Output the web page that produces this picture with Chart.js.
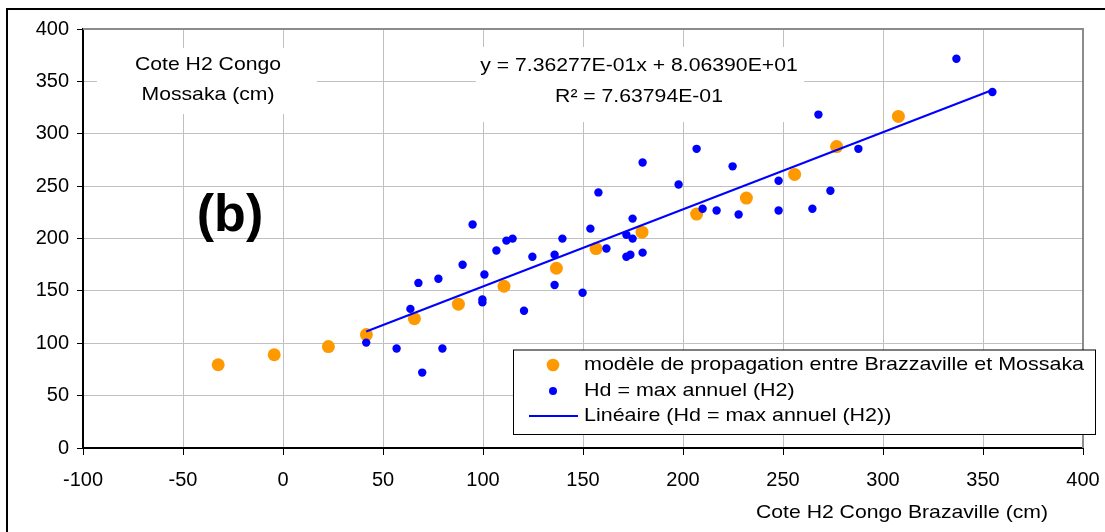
<!DOCTYPE html>
<html><head><meta charset="utf-8">
<script src="https://cdn.jsdelivr.net/npm/chart.js@4.4.1/dist/chart.umd.min.js"></script>
<style>html,body{margin:0;padding:0;background:#fff;overflow:hidden}#wrap{position:relative;width:1105px;height:532px}canvas{display:block}</style>
</head><body><div id="wrap"><canvas id="c" width="1105" height="532"></canvas></div>
<script>
// ---- data ----
const modelX = [-32.4, -4.4, 22.7, 41.7, 65.7, 87.7, 110.5, 136.7, 156.5, 179.5, 206.8, 231.7, 255.8, 276.8, 307.7];
const modelY = [79.5, 89.0, 96.8, 108.3, 123.5, 137.3, 154.4, 171.6, 190.4, 206.0, 223.3, 238.6, 261.2, 287.8, 316.5];
const obsX = [41.6, 56.8, 69.6, 79.7, 63.7, 67.7, 77.7, 89.8, 94.8, 99.7, 99.7, 100.7, 106.7, 111.7, 114.8,
  120.5, 124.7, 135.8, 135.8, 139.7, 149.8, 153.7, 157.7, 161.7, 171.7, 171.7, 173.7, 174.8, 174.8, 179.8,
  179.8, 197.8, 206.8, 209.8, 216.8, 224.8, 227.8, 247.8, 247.8, 264.7, 267.7, 273.7, 287.7, 336.7, 354.7];
const obsY = [100.6, 95.0, 72.0, 95.0, 132.8, 157.6, 161.6, 175.0, 213.4, 141.8, 139.0, 165.6, 188.5, 198.0, 199.9,
  131.0, 182.6, 184.5, 155.6, 199.9, 148.2, 209.4, 244.0, 190.5, 203.5, 182.6, 184.5, 219.0, 199.9, 186.5,
  272.5, 251.5, 285.6, 228.4, 226.7, 268.9, 222.9, 255.2, 226.7, 228.4, 318.3, 245.6, 285.6, 371.6, 339.9];
const xTickValues = [-100, -50, 0, 50, 100, 150, 200, 250, 300, 350, 400];
const yTickValues = [0, 50, 100, 150, 200, 250, 300, 350, 400];
const trendSlope = 0.736277;
const trendIntercept = 80.6390;
const seriesNames = ['modèle de propagation entre Brazzaville et Mossaka', 'Hd = max annuel (H2)', 'Linéaire (Hd = max annuel (H2))'];
const yAxisTitle = ['Cote H2 Congo', 'Mossaka (cm)'];
const xAxisTitle = 'Cote H2 Congo Brazaville (cm)';
const equationLines = ['y = 7.36277E-01x + 8.06390E+01', 'R² = 7.63794E-01'];
const panelLabel = '(b)';

// ---- styling ----
const FONT = '"Liberation Sans", Arial, sans-serif';
const FS = 20;
const TFS = 19;       // annotation text size
const STRETCH = 1.115; // horizontal stretch seen in the reference
const ORANGE = '#FF9900';
const BLUE = '#0000FF';

const modelPts = modelX.map((x, i) => ({x, y: modelY[i]}));
const obsPts = obsX.map((x, i) => ({x, y: obsY[i]}));
const xMinObs = Math.min(...obsX), xMaxObs = Math.max(...obsX);
const trendPts = [xMinObs, xMaxObs].map(x => ({x, y: trendSlope * x + trendIntercept}));

function sText(ctx, txt, x, y, align, k) {
  ctx.save();
  ctx.translate(x, y);
  ctx.scale(k || STRETCH, 1);
  ctx.textAlign = align;
  ctx.fillText(txt, 0, 0);
  ctx.restore();
}

const deco = {
  id: 'deco',
  beforeDatasetsDraw(chart) {
    const ctx = chart.ctx;
    ctx.save();
    ctx.fillStyle = '#fff';
    ctx.fillRect(97, 48, 220, 66);
    ctx.fillRect(476, 47, 328, 75);
    ctx.fillStyle = '#000';
    ctx.font = TFS + 'px ' + FONT;
    ctx.textBaseline = 'middle';
    sText(ctx, yAxisTitle[0], 208, 65, 'center');
    sText(ctx, yAxisTitle[1], 208, 95, 'center');
    sText(ctx, equationLines[0], 639, 66, 'center');
    sText(ctx, equationLines[1], 639, 97, 'center');
    ctx.restore();
  },
  afterDraw(chart) {
    const ctx = chart.ctx;
    const a = chart.chartArea;
    ctx.save();
    // outer frame
    ctx.strokeStyle = '#000';
    ctx.lineWidth = 2;
    ctx.beginPath();
    ctx.moveTo(7, 540); ctx.lineTo(7, 9); ctx.lineTo(1110, 9);
    ctx.stroke();
    // plot border top/right
    ctx.strokeStyle = '#8c8c8c';
    ctx.lineWidth = 2;
    ctx.beginPath();
    ctx.moveTo(a.left, a.top); ctx.lineTo(a.right, a.top); ctx.lineTo(a.right, a.bottom);
    ctx.stroke();
    // panel label
    ctx.fillStyle = '#000';
    ctx.font = 'bold 52px ' + FONT;
    ctx.textAlign = 'center';
    ctx.textBaseline = 'alphabetic';
    ctx.fillText(panelLabel, 230, 231);
    // x axis title
    ctx.font = TFS + 'px ' + FONT;
    ctx.textBaseline = 'middle';
    sText(ctx, xAxisTitle, 902, 513, 'center');
    // legend
    const L = 513.5, T = 350, R = 1095.5, B = 434.5;
    ctx.fillStyle = '#fff';
    ctx.fillRect(L, T, R - L, B - T);
    ctx.strokeStyle = '#000';
    ctx.lineWidth = 1;
    ctx.strokeRect(L, T, R - L, B - T);
    const rows = [365, 391, 416];
    ctx.fillStyle = ORANGE;
    ctx.beginPath(); ctx.arc(553, rows[0], 6.3, 0, Math.PI * 2); ctx.fill();
    ctx.fillStyle = BLUE;
    ctx.beginPath(); ctx.arc(553, rows[1], 4.0, 0, Math.PI * 2); ctx.fill();
    ctx.strokeStyle = BLUE;
    ctx.lineWidth = 2;
    ctx.beginPath(); ctx.moveTo(529, rows[2]); ctx.lineTo(578, rows[2]); ctx.stroke();
    ctx.fillStyle = '#000';
    seriesNames.forEach((s, i) => sText(ctx, s, 584, rows[i], 'left', 1.13));
    ctx.restore();
  }
};

new Chart(document.getElementById('c'), {
  type: 'scatter',
  data: {
    datasets: [
      {label: seriesNames[2], type: 'line', data: trendPts, borderColor: BLUE, borderWidth: 2, pointRadius: 0, fill: false, order: 0},
      {label: seriesNames[1], data: obsPts, backgroundColor: BLUE, borderWidth: 0, pointRadius: 4.2, order: 1},
      {label: seriesNames[0], data: modelPts, backgroundColor: ORANGE, borderWidth: 0, pointRadius: 6.5, order: 2}
    ]
  },
  options: {
    responsive: false,
    devicePixelRatio: 1,
    animation: false,
    events: [],
    layout: {padding: {left: 0, top: 29, right: 22, bottom: 0}},
    plugins: {legend: {display: false}, tooltip: {enabled: false}},
    scales: {
      x: {
        type: 'linear',
        min: xTickValues[0], max: xTickValues[xTickValues.length - 1],
        afterBuildTicks: s => { s.ticks = xTickValues.map(v => ({value: v})); },
        afterFit: s => { s.height = 84; s.paddingLeft = 0; s.paddingRight = 0; },
        ticks: {color: '#000', font: {family: FONT, size: FS}, padding: 13, maxRotation: 0, autoSkip: false},
        grid: {color: '#c0c0c0', lineWidth: 1, tickLength: 7, tickColor: '#000'},
        border: {color: '#000', width: 2}
      },
      y: {
        type: 'linear',
        min: yTickValues[0], max: yTickValues[yTickValues.length - 1],
        afterBuildTicks: s => { s.ticks = yTickValues.map(v => ({value: v})); },
        afterFit: s => { s.width = 83; s.paddingTop = 0; s.paddingBottom = 0; },
        ticks: {color: '#000', font: {family: FONT, size: FS}, padding: 8},
        grid: {color: '#c0c0c0', lineWidth: 1, tickLength: 6, tickColor: '#000'},
        border: {color: '#000', width: 2}
      }
    }
  },
  plugins: [deco]
});
</script>
</body></html>
